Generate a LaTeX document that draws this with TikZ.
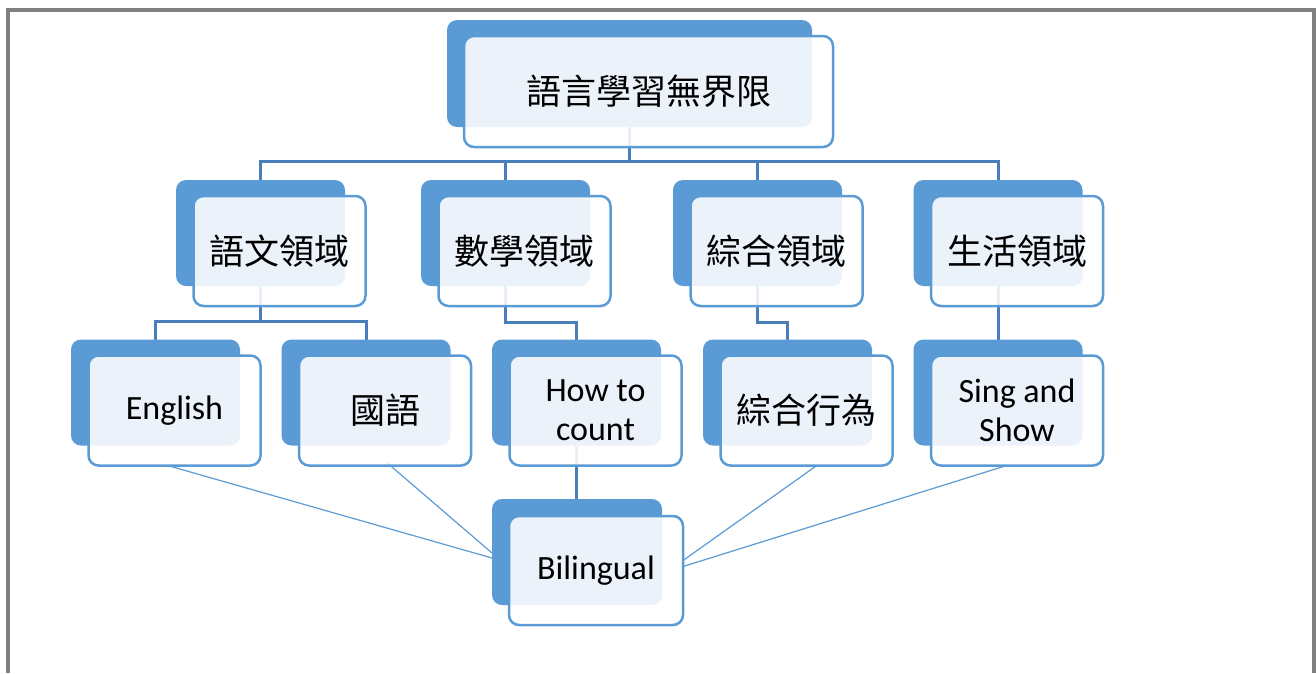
\documentclass[tikz,border=0pt]{standalone}
\usepackage{fontspec}
\setmainfont{Carlito}
\newfontfamily\cjkfam{Noto Sans CJK TC}
\newcommand{\cjk}{\cjkfam\fontsize{35}{39}\selectfont}
\usetikzlibrary{calc}
\pgfdeclarelayer{bg}
\pgfsetlayers{bg,main}
\definecolor{acc}{HTML}{5B9BD5}
\definecolor{conn}{HTML}{4A7EBB}
\definecolor{framegray}{HTML}{808080}
\begin{document}
\begin{tikzpicture}[x=1pt,y=-1pt,
  backbox/.style={rectangle,rounded corners=10pt,fill=acc,minimum width=169pt,minimum height=106pt,inner sep=0pt,outer sep=0pt},
  frontbox/.style={rectangle,rounded corners=10pt,draw=acc,line width=2.5pt,fill=white,fill opacity=0.88,text opacity=1,draw opacity=1,minimum width=172pt,minimum height=110pt,inner sep=0pt,outer sep=0pt,align=center,font=\fontsize{34}{39}\selectfont},
  elbow/.style={draw=conn,line width=3pt},
  fineline/.style={draw=acc,line width=1.2pt}]
\useasboundingbox (0,0) rectangle (1316,673);
\draw[framegray,line width=4pt] (8,673) -- (8,10) -- (1313.5,10) -- (1313.5,673);

% top
\node[backbox,minimum width=365pt,minimum height=107pt] (b0) at (629.5,73.5) {};
\node[frontbox,minimum width=369pt,minimum height=111pt] (f0) at (648.5,91.5) {\cjk 語言學習無界限};

% level 2
\node[backbox] (b1) at (260.5,233) {};
\node[frontbox] (f1) at ($(b1)+(19,18)$) {\cjk 語文領域};
\node[backbox] (b2) at (505.5,233) {};
\node[frontbox] (f2) at ($(b2)+(19,18)$) {\cjk 數學領域};
\node[backbox] (b3) at (757.5,233) {};
\node[frontbox] (f3) at ($(b3)+(19,18)$) {\cjk 綜合領域};
\node[backbox] (b4) at (998,233) {};
\node[frontbox] (f4) at ($(b4)+(19,18)$) {\cjk 生活領域};

% level 3
\node[backbox] (b5) at (155.5,392.5) {};
\node[frontbox] (f5) at ($(b5)+(19,18)$) {English};
\node[backbox] (b6) at (366,392.5) {};
\node[frontbox] (f6) at ($(b6)+(19,18)$) {\cjk 國語};
\node[backbox] (b7) at (576.5,392.5) {};
\node[frontbox] (f7) at ($(b7)+(19,18)$) {How to\\count};
\node[backbox] (b8) at (787.5,392.5) {};
\node[frontbox] (f8) at ($(b8)+(19,18)$) {\cjk 綜合行為};
\node[backbox] (b9) at (998,392.5) {};
\node[frontbox] (f9) at ($(b9)+(19,18)$) {Sing and\\Show};

% bilingual
\node[backbox,minimum width=170pt] (bb) at (577,552) {};
\node[frontbox,minimum width=174pt,minimum height=109pt] (fb) at ($(bb)+(19,18.5)$) {Bilingual};

\begin{pgfonlayer}{bg}
\draw[elbow] (b0.south) -- ++(0,34) -| (b1.north);
\draw[elbow] (b0.south) -- ++(0,34) -| (b2.north);
\draw[elbow] (b0.south) -- ++(0,34) -| (b3.north);
\draw[elbow] (b0.south) -- ++(0,34) -| (b4.north);
\draw[elbow] (b1.south) -- ++(0,35) -| (b5.north);
\draw[elbow] (b1.south) -- ++(0,35) -| (b6.north);
\draw[elbow] (b2.south) -- ++(0,36) -| (b7.north);
\draw[elbow] (b3.south) -- ++(0,36) -| (b8.north);
\draw[elbow] (b4.south) -- (b9.north);
\draw[elbow] (b7.south) -- (b7.south |- bb.north);
\draw[fineline] ($(f5.south west)!0.46!(f5.south east)$) -- ($(bb.west)+(0,6)$);
\draw[fineline] ($(f6.south west)!0.51!(f6.south east)+(0,-3)$) -- ($(bb.west)+(0,1)$);
\draw[fineline] ($(f8.south west)!0.56!(f8.south east)$) -- ($(fb.east)+(0,-10)$);
\draw[fineline] ($(f9.south west)!0.44!(f9.south east)$) -- ($(fb.east)+(0,-4)$);
\end{pgfonlayer}
\end{tikzpicture}
\end{document}
